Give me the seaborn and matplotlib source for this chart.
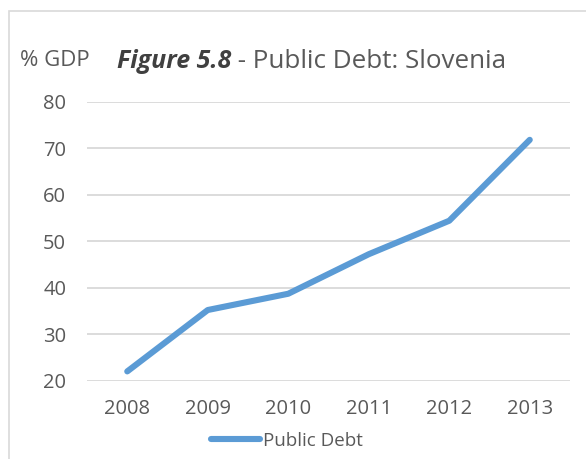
import matplotlib
matplotlib.use("Agg")
import matplotlib.pyplot as plt
import seaborn as sns
import pandas as pd
from matplotlib.patches import Rectangle

years = ["2008", "2009", "2010", "2011", "2012", "2013"]
public_debt = [22.0, 35.2, 38.7, 47.2, 54.4, 71.8]
y_ticks = [20, 30, 40, 50, 60, 70, 80]
series_name = "Public Debt"

sns.set_theme(style="white")
plt.rcParams['font.family'] = ['Open Sans', 'DejaVu Sans']
txt = "#595959"

df = pd.DataFrame({"Year": years, "Debt": public_debt, "Series": series_name})

fig = plt.figure(figsize=(5.86, 4.59), dpi=100)
ax = fig.add_axes([87/586, 1-380.7/459, (570-87)/586, (380.7-101.7)/459])

sns.lineplot(data=df, x="Year", y="Debt", hue="Series", palette=["#5B9BD5"],
             linewidth=4.4, ax=ax, legend=True, solid_capstyle="round",
             solid_joinstyle="round")

ax.set_xlim(-0.5, 5.5)
ax.set_ylim(20, 80)
ax.set_yticks(y_ticks)
ax.set_yticklabels([str(v) for v in y_ticks])
ax.yaxis.grid(True, color="#d9d9d9", linewidth=1.3)
ax.xaxis.grid(False)
for s in ax.spines.values():
    s.set_visible(False)
ax.tick_params(axis="both", length=0, labelsize=14.5, labelcolor=txt)
ax.tick_params(axis="y", pad=15)
ax.tick_params(axis="x", pad=13)
ax.set_xlabel("")
ax.set_ylabel("")

handles, labels = ax.get_legend_handles_labels()
ax.get_legend().remove()
leg = fig.legend(handles, labels, loc="center", bbox_to_anchor=(287/586, 1-441/459),
                 frameon=False, fontsize=13.5, handlelength=2.6, handletextpad=0.2,
                 labelcolor=txt)
for h in leg.get_lines():
    h.set_linewidth(4.4)
    h.set_solid_capstyle("round")

fig.text(20/586, 1-61/459, "% GDP", fontsize=16, color=txt, va="center", ha="left")
t1 = fig.text(117/586, 1-61/459, "Figure 5.8", fontsize=18, color="#404040",
              fontweight="bold", fontstyle="italic", va="center", ha="left")
fig.canvas.draw()
bb = t1.get_window_extent(renderer=fig.canvas.get_renderer())
x_next = bb.x1 / fig.bbox.width
fig.text(x_next, 1-61/459, " - Public Debt: Slovenia", fontsize=18.7, color=txt,
         va="center", ha="left")

fig.patches.append(Rectangle((9/586, -0.1), 1.2, 1 - 11/459 + 0.1,
                             transform=fig.transFigure, fill=False,
                             edgecolor="#d9d9d9", linewidth=1.2))

fig.savefig("out.png", dpi=100)
